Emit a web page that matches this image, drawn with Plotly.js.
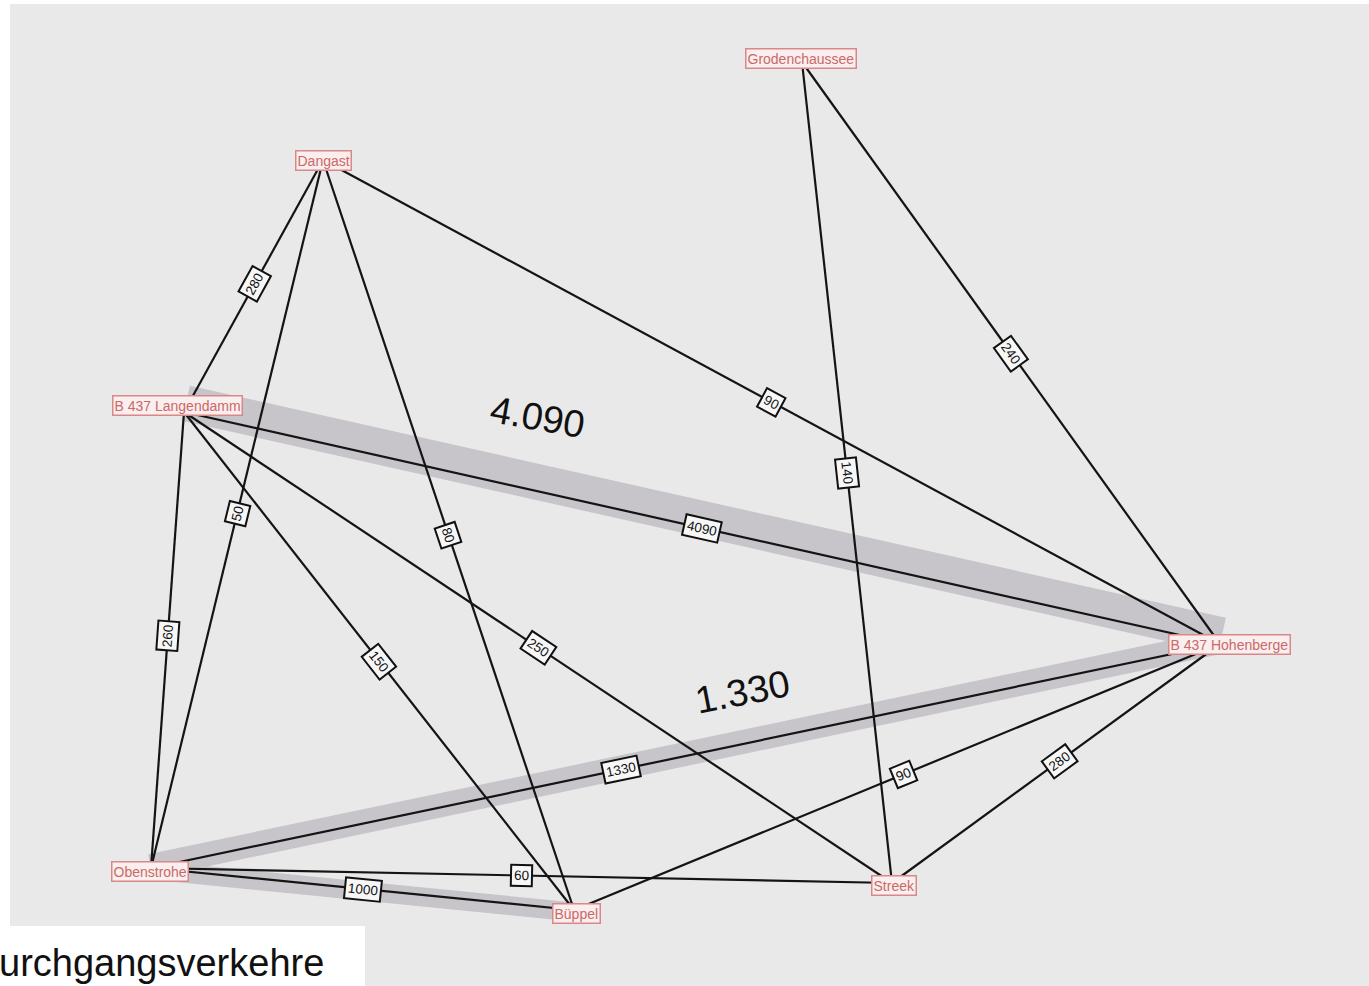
<!DOCTYPE html>
<html>
<head>
<meta charset="utf-8">
<script src="https://cdn.plot.ly/plotly-3.0.1.min.js"></script>
<style>html,body{margin:0;padding:0;background:#fff;}#chart{width:1369px;height:986px;}</style>
</head>
<body>
<div id="chart"></div>
<script>
// ---------- DATA ----------
const nodeNames = ['Grodenchaussee', 'Dangast', 'B 437 Langendamm', 'B 437 Hohenberge', 'Obenstrohe', 'Büppel', 'Streek'];
const nodeX = [802, 323, 184, 1220, 151, 574, 892];
const nodeY = [62, 160, 412, 644, 868, 910, 883];

const edgeFrom  = [1, 1, 1, 1, 0, 0, 2, 2, 2, 2, 4, 3, 3, 4, 4];
const edgeTo    = [2, 4, 5, 3, 6, 3, 3, 4, 5, 6, 3, 5, 6, 6, 5];
const edgeValue = [280, 50, 80, 90, 140, 240, 4090, 260, 150, 250, 1330, 90, 280, 60, 1000];

// through-traffic flows (grey bands)
const flowFrom  = [2, 4, 4];
const flowTo    = [3, 3, 5];
const flowValue = [4090, 1330, 1000];
const flowLabeled = [true, true, false];

const captionText = 'urchgangsverkehre';

// ---------- STYLE / LAYOUT ----------
const W = 1369, H = 986;
const labelShift = [[-1, -4], [0, 0], [-7, -7], [9, 0], [-1, 3], [2, 3], [2, 2]];
const edgeLabelT = [0.49, 0.50, 0.50, 0.50, 0.50, 0.50, 0.50, 0.49, 0.50, 0.50, 0.44, 0.49, 0.49, 0.50, 0.50];
const bandWidth = [36, 24, 19];
const bandOffset = [-9, -2, 2];   // perpendicular shift of band (px)
const bigLabelPos = [[537, 417, 10], [742, 692, -11]];

const traces = [];
// bands
flowFrom.forEach((f, i) => {
  const t = flowTo[i];
  const dx = nodeX[t] - nodeX[f], dy = nodeY[t] - nodeY[f];
  const L = Math.hypot(dx, dy);
  let nx = dy / L, ny = -dx / L;
  if (ny > 0) { nx = -nx; ny = -ny; }
  const o = -bandOffset[i];
  traces.push({
    type: 'scatter', mode: 'lines',
    x: [nodeX[f] + nx * o, nodeX[t] + nx * o], y: [nodeY[f] + ny * o, nodeY[t] + ny * o],
    line: {color: '#c7c5c9', width: bandWidth[i]},
    hoverinfo: 'skip', showlegend: false
  });
});
// edges
edgeFrom.forEach((f, i) => {
  traces.push({
    type: 'scatter', mode: 'lines',
    x: [nodeX[f], nodeX[edgeTo[i]]], y: [nodeY[f], nodeY[edgeTo[i]]],
    line: {color: '#141414', width: 2.2},
    hoverinfo: 'skip', showlegend: false
  });
});

const annotations = [];
// edge labels
edgeFrom.forEach((f, i) => {
  const t = edgeTo[i];
  const x0 = nodeX[f], y0 = nodeY[f], x1 = nodeX[t], y1 = nodeY[t];
  const tt = edgeLabelT[i];
  let ang = Math.atan2(y1 - y0, x1 - x0) * 180 / Math.PI;
  if (ang > 90) ang -= 180;
  if (ang <= -90) ang += 180;
  annotations.push({
    x: x0 + (x1 - x0) * tt, y: y0 + (y1 - y0) * tt,
    xref: 'x', yref: 'y', showarrow: false,
    text: String(edgeValue[i]), textangle: ang,
    font: {family: 'Liberation Sans, Arial, sans-serif', size: 13.5, color: '#111'},
    bgcolor: '#f7f7f7', bordercolor: '#111', borderwidth: 2, borderpad: 2
  });
});
// node labels
nodeNames.forEach((n, i) => {
  annotations.push({
    x: nodeX[i] + labelShift[i][0], y: nodeY[i] + labelShift[i][1],
    xref: 'x', yref: 'y', showarrow: false,
    text: n,
    font: {family: 'Liberation Sans, Arial, sans-serif', size: 14, color: '#c86a6a'},
    bgcolor: '#fbeeee', bordercolor: '#d9888a', borderwidth: 1.5, borderpad: 1
  });
});
// big flow labels
let k = 0;
flowValue.forEach((v, i) => {
  if (!flowLabeled[i]) return;
  const p = bigLabelPos[k++];
  annotations.push({
    x: p[0], y: p[1], xref: 'x', yref: 'y', showarrow: false,
    text: v.toLocaleString('de-DE'), textangle: p[2],
    font: {family: 'Liberation Sans, Arial, sans-serif', size: 38, color: '#111'}
  });
});
// caption
annotations.push({
  x: 0, y: 963, xref: 'x', yref: 'y', xanchor: 'left', yanchor: 'middle', xshift: -3, showarrow: false,
  text: captionText,
  font: {family: 'Liberation Sans, Arial, sans-serif', size: 38, color: '#111'}
});

const layout = {
  width: W, height: H,
  margin: {l: 0, r: 0, t: 0, b: 0},
  paper_bgcolor: '#ffffff', plot_bgcolor: '#ffffff',
  xaxis: {range: [0, W], visible: false, fixedrange: true},
  yaxis: {range: [H, 0], visible: false, fixedrange: true},
  shapes: [
    {type: 'rect', xref: 'x', yref: 'y', x0: 10, x1: W, y0: 4, y1: H, fillcolor: '#e9e9e9', line: {width: 0}, layer: 'below'},
    {type: 'rect', xref: 'x', yref: 'y', x0: 0, x1: 365, y0: 926, y1: H, fillcolor: '#ffffff', line: {width: 0}, layer: 'below'}
  ],
  annotations: annotations,
  showlegend: false
};

Plotly.newPlot('chart', traces, layout, {staticPlot: true, displayModeBar: false});
</script>
</body>
</html>
